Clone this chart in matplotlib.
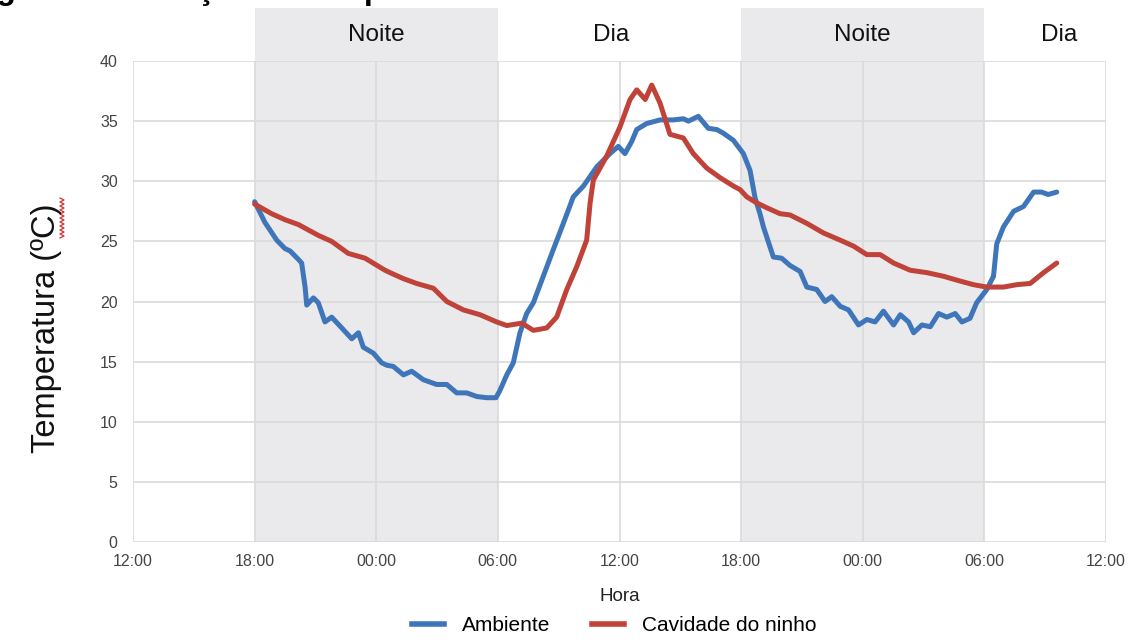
import numpy as np
import matplotlib
matplotlib.use('Agg')
import matplotlib.pyplot as plt
from matplotlib.lines import Line2D

plt.rcParams['font.family'] = ['Liberation Sans', 'DejaVu Sans']

# hours counted from 12:00 of the first day
amb_h = [6.0, 6.5, 7.09, 7.5, 7.75, 8.16, 8.32, 8.49, 8.57, 8.9, 9.14, 9.47, 9.8, 10.3, 10.79,
         11.12, 11.36, 11.86, 12.27, 12.52, 12.84, 13.34, 13.75, 14.32, 14.98, 15.48, 15.97,
         16.46, 16.96, 17.45, 17.91, 18.1, 18.44, 18.76, 19.09, 19.42, 19.75, 20.24, 20.73,
         21.23, 21.72, 22.22, 22.88, 23.53, 23.94, 24.27, 24.6, 24.85, 25.34, 26.0, 26.66,
         27.15, 27.4, 27.89, 28.38, 28.8, 29.12, 29.62, 30.11, 30.44, 30.69, 30.93, 31.1,
         31.59, 32.0, 32.41, 32.91, 33.24, 33.73, 34.14, 34.47, 34.89, 35.3, 35.79, 36.2,
         36.61, 37.02, 37.52, 37.85, 38.26, 38.51, 38.92, 39.33, 39.74, 40.15, 40.56, 40.89,
         41.29, 41.62, 42.12, 42.45, 42.61, 42.94, 43.44, 43.93, 44.43, 44.82, 45.15, 45.57]
amb_t = [28.3, 26.6, 25.1, 24.4, 24.2, 23.5, 23.2, 21.2, 19.7, 20.3, 19.9, 18.3, 18.7, 17.8, 16.9,
         17.4, 16.2, 15.7, 14.9, 14.7, 14.6, 13.9, 14.2, 13.5, 13.1, 13.1, 12.4,
         12.4, 12.1, 12.0, 12.0, 12.6, 13.9, 14.9, 17.4, 19.0, 19.9, 22.1, 24.3,
         26.5, 28.7, 29.6, 31.2, 32.3, 32.9, 32.3, 33.3, 34.3, 34.8, 35.1, 35.1,
         35.2, 35.0, 35.4, 34.4, 34.3, 34.0, 33.4, 32.3, 30.9, 28.6, 27.3, 26.2,
         23.7, 23.6, 23.0, 22.5, 21.2, 21.0, 20.0, 20.4, 19.6, 19.3, 18.05, 18.5,
         18.3, 19.2, 18.05, 18.9, 18.3, 17.4, 18.05, 17.9, 19.0, 18.7, 19.0, 18.3,
         18.6, 19.9, 21.0, 22.1, 24.8, 26.2, 27.5, 27.9, 29.1, 29.1, 28.9, 29.1]

ninho_h = [6.0, 6.84, 7.5, 8.16, 9.14, 9.8, 10.62, 11.45, 12.43, 12.68, 13.34, 13.99, 14.82,
           15.48, 16.3, 17.12, 17.94, 18.44, 19.18, 19.75, 20.41, 20.9, 21.4, 21.89, 22.38,
           22.55, 22.71, 23.37, 24.02, 24.52, 24.85, 25.27, 25.59, 26.0, 26.49, 27.15, 27.64,
           28.3, 28.96, 29.62, 29.95, 30.28, 30.77, 31.26, 31.92, 32.41, 33.24, 34.06, 34.89,
           35.55, 36.2, 36.86, 37.52, 38.34, 39.16, 39.98, 40.8, 41.46, 42.12, 42.94, 43.6,
           44.26, 44.92, 45.57]
ninho_t = [28.1, 27.3, 26.8, 26.4, 25.5, 25.0, 24.0, 23.6, 22.6, 22.4, 21.9, 21.5, 21.1,
           20.0, 19.3, 18.9, 18.3, 18.0, 18.2, 17.6, 17.8, 18.7, 21.0, 22.9, 25.1,
           28.2, 30.1, 32.1, 34.5, 36.8, 37.6, 36.8, 38.0, 36.5, 33.9, 33.6, 32.3,
           31.1, 30.3, 29.6, 29.3, 28.7, 28.2, 27.8, 27.3, 27.2, 26.5, 25.7, 25.1,
           24.6, 23.9, 23.9, 23.2, 22.6, 22.4, 22.1, 21.7, 21.4, 21.2, 21.2, 21.4,
           21.5, 22.4, 23.2]

hour_ticks = [0, 6, 12, 18, 24, 30, 36, 42, 48]
hour_labels = ['12:00', '18:00', '00:00', '06:00', '12:00', '18:00', '00:00', '06:00', '12:00']

periods = ['Noite', 'Dia', 'Noite', 'Dia']
period_pos = [12, 23.6, 36, 45.7]
night_spans = [(6, 18), (30, 42)]

blue = '#3f76b9'
red = '#c0433a'

fig = plt.figure(figsize=(11.34, 6.42), dpi=100, facecolor='white')
ax = fig.add_axes([133 / 1134, 1 - 542 / 642, 973 / 1134, 481 / 642])

# shaded night periods, running up into the header strip
top_frac = (542 - 8) / 481
for a, b in night_spans:
    ax.axvspan(a, b, ymin=0, ymax=top_frac, color='#eaeaec', lw=0, zorder=0.2, clip_on=False)

for name, pos in zip(periods, period_pos):
    ax.text(pos, 42.2, name, ha='center', va='center', fontsize=17.5, color='#111111')

ax.plot(amb_h, amb_t, color=blue, lw=3.6, solid_joinstyle='round', solid_capstyle='round', zorder=3)
ax.plot(ninho_h, ninho_t, color=red, lw=3.6, solid_joinstyle='round', solid_capstyle='round', zorder=3)

ax.set_xlim(0, 48)
ax.set_ylim(0, 40)
ax.set_xticks(hour_ticks)
ax.set_xticklabels(hour_labels)
ax.set_yticks(np.arange(0, 41, 5))
ax.tick_params(length=0, labelsize=11.5, labelcolor='#444444')
ax.tick_params(axis='x', pad=9)
ax.tick_params(axis='y', pad=11)
ax.set_axisbelow(True)
ax.grid(True, color='#dadada', lw=1.2)
for s in ax.spines.values():
    s.set_visible(False)
ax.set_facecolor('none')

ax.set_xlabel('Hora', fontsize=13.5, color='#222222', labelpad=13)
fig.text(47 / 1134, 1 - 328 / 642, 'Temperatura (ºC)', rotation=90, ha='center', va='center',
         fontsize=23.5, color='#111111')

# spell-check squiggle beside the unit
sq_y = np.arange(198, 239, 2.0)
sq_x = np.where(np.arange(len(sq_y)) % 2 == 0, 60.0, 64.0)
fig.add_artist(Line2D(sq_x / 1134, 1 - sq_y / 642, color='#d03030', lw=0.9, transform=fig.transFigure))

# caption sitting just above the top edge, only its descenders show
fig.text(-32 / 1134, 1 + 0.5 / 642, 'Figura 3 - Variação da temperatura', fontsize=23, fontweight='bold',
         ha='left', va='baseline', color='black')

handles = [Line2D([], [], color=blue, lw=4), Line2D([], [], color=red, lw=4)]
fig.legend(handles, ['Ambiente', 'Cavidade do ninho'], loc='center', bbox_to_anchor=(0.542, 0.025),
           ncol=2, frameon=False, fontsize=15, handlelength=1.5, handletextpad=0.9, columnspacing=2.0)

fig.savefig('out.png', dpi=100)
